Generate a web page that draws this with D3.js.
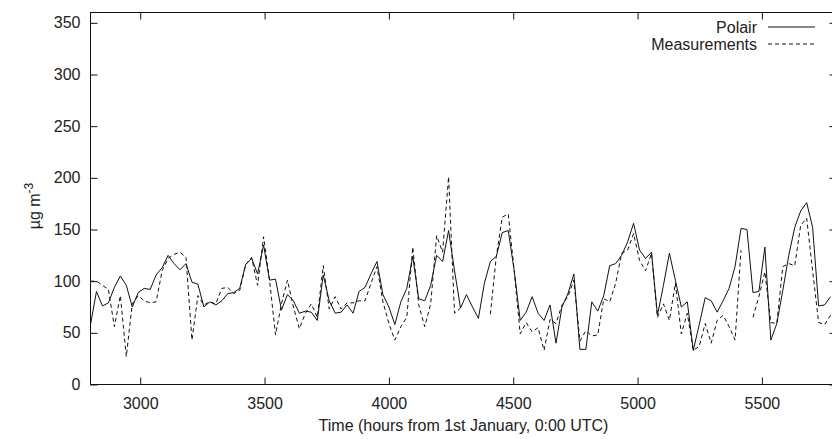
<!doctype html>
<html>
<head>
  <meta charset="utf-8">
  <title>Polair vs Measurements</title>
  <style>
  body { margin: 0; background: #fff; }
  #vis { width: 832px; height: 439px; }
  text { font-family: "Liberation Sans", Arial, Helvetica, sans-serif; fill: #222; }
  </style>
</head>
<body>
  <div id="vis"></div>

  <script src="https://d3js.org/d3.v7.min.js"></script>
  <script>
  // daily values, first day at hour 2800, one every 24 hours
  var startHour = 2800;
  var stepHours = 24;

  var polair = [58, 90, 76, 79, 94, 105, 96, 75, 89, 93, 92, 106, 113, 125, 117, 111, 117, 99, 97, 75,
    80, 77, 81, 88, 89, 93, 116, 122, 107, 135, 101, 102, 72, 87, 81, 69, 71, 70, 62, 106,
    81, 69, 70, 77, 69, 90, 94, 107, 119, 87, 75, 58, 80, 93, 124, 83, 81, 96, 125, 119,
    149, 110, 74, 87, 75, 64, 98, 119, 124, 147, 149, 110, 62, 70, 85, 69, 62, 77, 40, 75,
    88, 107, 34, 34, 80, 71, 86, 115, 117, 125, 138, 156, 130, 122, 128, 67, 96, 127, 101, 75,
    80, 33, 58, 84, 81, 70, 81, 93, 114, 151, 150, 89, 90, 133, 43, 59, 91, 125, 152, 168,
    176, 152, 76, 77, 85];

  var measurements = [100, 100, 96, 92, 56, 86, 27, 78, 86, 81, 79, 80, 110, 122, 126, 128, 123, 43, 86, 77,
    80, 78, 93, 94, 88, 91, 116, 123, 96, 143, 101, 48, 78, 101, 75, 54, 69, 78, 65, 115,
    73, 85, 73, 79, 79, 81, 81, 98, 114, 80, 59, 43, 56, 65, 133, 77, 56, 78, 144, 128,
    201, 69, 74, null, null, null, null, 68, 124, 162, 165, 110, 49, 60, 51, 55, 33, 63, 59, 77,
    85, 101, 42, 52, 47, 48, 83, 80, 98, 127, 130, 146, 120, 110, 127, 65, 78, 62, 98, 49,
    69, 33, 37, 59, 40, 62, 67, 56, 43, 130, null, 65, 85, 109, 60, 59, 114, 117, 115, 154,
    161, 110, 60, 58, 67];

  var xTicks = [3000, 3500, 4000, 4500, 5000, 5500];
  var yTicks = [0, 50, 100, 150, 200, 250, 300, 350];
  var legendLabels = ['Polair', 'Measurements'];

  var width = 832;
  var height = 439;
  var plot = { left: 90.5, right: 836.5, top: 12.5, bottom: 384.5 };
  var tickLen = 7;
  var fontSize = 16;

  var svg = d3.select('#vis')
    .append('svg')
    .attr('width', width)
    .attr('height', height);

  var x = d3.scaleLinear().domain([2800, 5800]).range([plot.left, plot.right]);
  var y = d3.scaleLinear().domain([0, 360]).range([plot.bottom, plot.top]);

  svg.append('defs').append('clipPath').attr('id', 'clip')
    .append('rect')
      .attr('x', plot.left).attr('y', plot.top)
      .attr('width', plot.right - plot.left).attr('height', plot.bottom - plot.top);

  // axes: ticks point inward and are mirrored on top/right like gnuplot
  var bottomAxis = d3.axisBottom(x).tickValues(xTicks).tickFormat(d3.format('d'))
    .tickSizeInner(-tickLen).tickSizeOuter(0).tickPadding(13);
  var topAxis = d3.axisTop(x).tickValues(xTicks).tickSizeInner(-tickLen).tickSizeOuter(0).tickFormat('');
  var leftAxis = d3.axisLeft(y).tickValues(yTicks).tickFormat(d3.format('d'))
    .tickSizeInner(-tickLen).tickSizeOuter(0).tickPadding(10);
  var rightAxis = d3.axisRight(y).tickValues(yTicks).tickSizeInner(-tickLen).tickSizeOuter(0).tickFormat('');

  function styleAxis(g){
    g.select('.domain').remove();
    g.selectAll('line').attr('stroke', '#111');
    g.selectAll('text').attr('font-size', fontSize).attr('fill', '#222')
      .attr('font-family', '"Liberation Sans", Arial, Helvetica, sans-serif');
  }

  svg.append('g').attr('transform', 'translate(0,' + plot.bottom + ')').call(bottomAxis).call(styleAxis);
  svg.append('g').attr('transform', 'translate(0,' + plot.top + ')').call(topAxis).call(styleAxis);
  svg.append('g').attr('transform', 'translate(' + plot.left + ',0)').call(leftAxis).call(styleAxis);
  svg.append('g').attr('transform', 'translate(' + plot.right + ',0)').call(rightAxis).call(styleAxis);

  svg.append('rect')
    .attr('x', plot.left).attr('y', plot.top)
    .attr('width', plot.right - plot.left).attr('height', plot.bottom - plot.top)
    .attr('fill', 'none').attr('stroke', '#111').attr('stroke-width', 1);

  function series(values){
    return values.map(function(v, i){ return { t: startHour + i * stepHours, v: v }; });
  }

  var line = d3.line()
    .defined(function(d){ return d.v != null; })
    .x(function(d){ return x(d.t); })
    .y(function(d){ return y(d.v); });

  var lines = svg.append('g').attr('clip-path', 'url(#clip)');

  lines.append('path')
    .datum(series(measurements))
    .attr('fill', 'none')
    .attr('stroke', '#111')
    .attr('stroke-width', 1)
    .attr('stroke-dasharray', '4,3')
    .attr('d', line);

  lines.append('path')
    .datum(series(polair))
    .attr('fill', 'none')
    .attr('stroke', '#111')
    .attr('stroke-width', 1)
    .attr('d', line);

  // legend
  var legend = svg.append('g').selectAll('g')
    .data(legendLabels).enter().append('g')
      .attr('transform', function(d, i){ return 'translate(0,' + (27 + i * 17) + ')'; });

  legend.append('text')
    .attr('x', 757)
    .attr('dy', '0.35em')
    .attr('text-anchor', 'end')
    .attr('font-size', fontSize)
    .text(function(d){ return d; });

  legend.append('line')
    .attr('x1', 768).attr('x2', 815)
    .attr('stroke', '#111')
    .attr('stroke-dasharray', function(d, i){ return i === 1 ? '4,3' : null; });

  // axis titles
  svg.append('text')
    .attr('x', (plot.left + plot.right) / 2)
    .attr('y', 431)
    .attr('text-anchor', 'middle')
    .attr('font-size', fontSize)
    .text('Time (hours from 1st January, 0:00 UTC)');

  var ylab = svg.append('text')
    .attr('transform', 'translate(40,206) rotate(-90)')
    .attr('text-anchor', 'middle')
    .attr('font-size', fontSize);
  ylab.append('tspan').text('µg m');
  ylab.append('tspan').attr('dy', -7).attr('font-size', 12).text('-3');
</script>
</body>
</html>
